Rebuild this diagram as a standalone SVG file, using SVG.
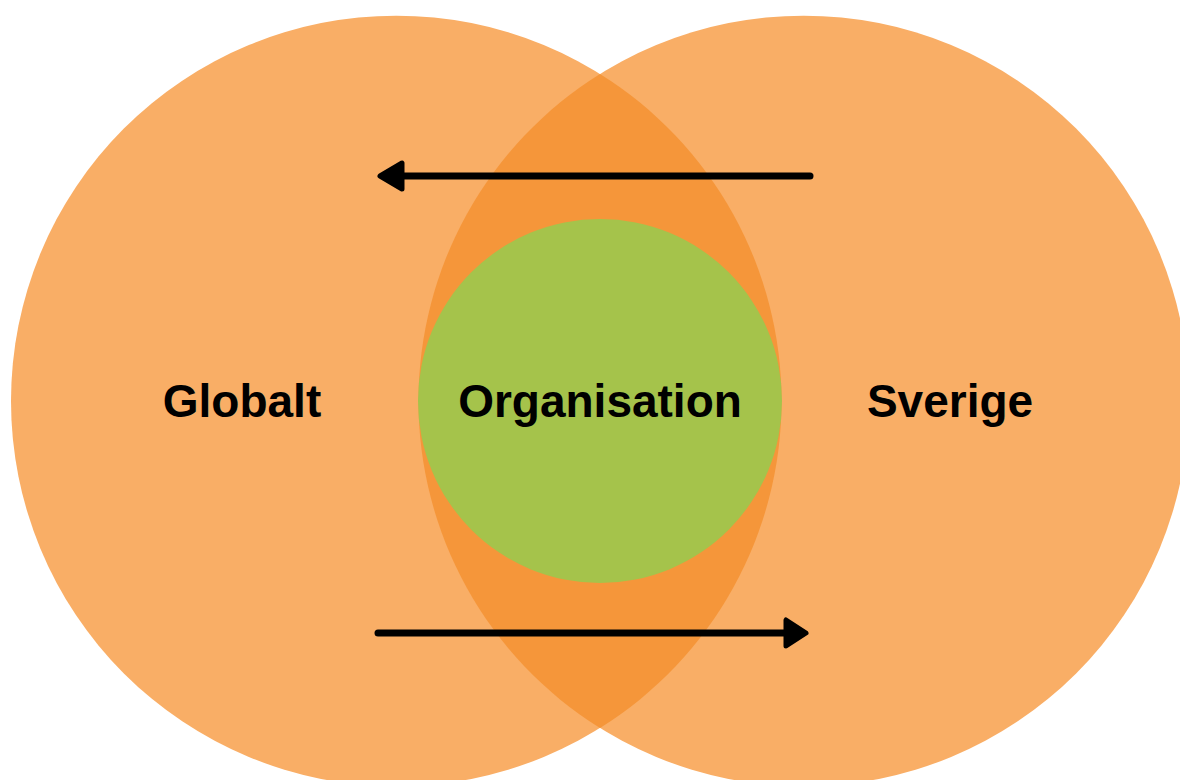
<svg xmlns="http://www.w3.org/2000/svg" width="1180" height="780" viewBox="0 0 1180 780">
  <style>
    .big { fill: #F9AE66; }
    .lens { fill: #F5963A; }
    .core { fill: #A5C34B; }
    .lbl { font-family: "Liberation Sans", Arial, sans-serif; font-weight: bold; font-size: 46px; fill: #000; text-anchor: middle; }
    .line { stroke: #000; stroke-width: 7; stroke-linecap: round; fill: none; }
    .head { fill: #000; stroke: #000; stroke-width: 5; stroke-linejoin: round; }
  </style>
  <rect width="1180" height="780" fill="#fff"/>
  <g id="globalt">
    <circle class="big" cx="396.3" cy="401" r="385.3"/>
  </g>
  <g id="sverige">
    <circle class="big" cx="803.7" cy="401" r="385.3"/>
  </g>
  <g id="overlap">
    <path class="lens" d="M600,74 A385.3,385.3 0 0 1 600,728 A385.3,385.3 0 0 1 600,74 Z"/>
  </g>
  <g id="organisation">
    <circle class="core" cx="600" cy="401" r="182"/>
    <text class="lbl" x="600" y="417">Organisation</text>
  </g>
  <g id="globalt-label">
    <text class="lbl" x="242" y="417">Globalt</text>
  </g>
  <g id="sverige-label">
    <text class="lbl" x="950" y="417">Sverige</text>
  </g>
  <g id="connectors">
    <line class="line" x1="810" y1="176" x2="398" y2="176"/>
    <polygon class="head" points="380,176 402,163 402,189"/>
    <line class="line" x1="378" y1="633" x2="790" y2="633"/>
    <polygon class="head" points="806,633 786,620 786,646"/>
  </g>
</svg>
